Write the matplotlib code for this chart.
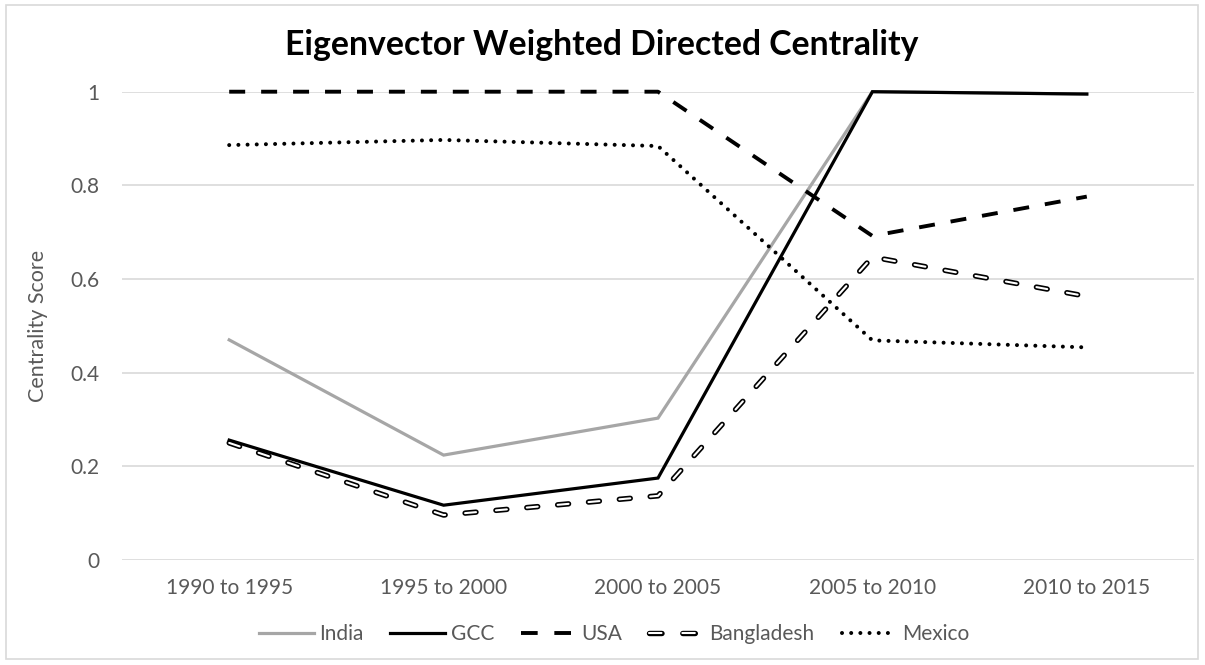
import matplotlib
matplotlib.use('Agg')
import matplotlib.pyplot as plt
from matplotlib.lines import Line2D
from matplotlib.legend_handler import HandlerTuple
from matplotlib.patches import Rectangle

plt.rcParams['font.family'] = ['Lato', 'DejaVu Sans']
plt.rcParams['lines.scale_dashes'] = False

# 数据
periods = ['1990 to 1995', '1995 to 2000', '2000 to 2005', '2005 to 2010', '2010 to 2015']
india = [0.47, 0.224, 0.303, 1.0, 0.995]
gcc = [0.256, 0.117, 0.175, 1.0, 0.995]
usa = [1.0, 1.0, 1.0, 0.692, 0.776]
bangladesh = [0.25, 0.096, 0.137, 0.647, 0.563]
mexico = [0.886, 0.897, 0.884, 0.469, 0.454]

TEXT = '#595959'
GRID = '#d9d9d9'

fig = plt.figure(figsize=(12.05, 6.65), dpi=100)
fig.patches.append(Rectangle((6 / 1205, 1 - 659 / 665), 1192 / 1205, 654 / 665,
                             transform=fig.transFigure, fill=False,
                             edgecolor='#d9d9d9', linewidth=1.2))
ax = fig.add_axes([122 / 1205, 105 / 665, 1072 / 1205, 468.3 / 665])

x = list(range(len(periods)))

ax.plot(x, india, color='#a6a6a6', lw=2.3, solid_joinstyle='miter', clip_on=False, zorder=3)
ax.plot(x, gcc, color='black', lw=2.3, solid_joinstyle='miter', clip_on=False, zorder=4)
ax.plot(x, usa, color='black', lw=2.8, dashes=(11.5, 11.5), dash_capstyle='butt',
        clip_on=False, zorder=5)
ax.plot(x, bangladesh, color='black', lw=3.9, dashes=(7.9, 14.4), dash_capstyle='round',
        clip_on=False, zorder=5)
ax.plot(x, bangladesh, color='white', lw=1.5, dashes=(7.9, 14.4), dash_capstyle='round',
        clip_on=False, zorder=6)
ax.plot(x, mexico, color='black', lw=2.9, dashes=(0.01, 6.6), dash_capstyle='round',
        clip_on=False, zorder=5)

ax.set_xlim(-0.5, len(periods) - 0.5)
ax.set_ylim(0, 1)
ax.set_yticks([0, 0.2, 0.4, 0.6, 0.8, 1])
ax.set_yticklabels(['0', '0.2', '0.4', '0.6', '0.8', '1'])
ax.set_xticks(x)
ax.set_xticklabels(periods)
ax.tick_params(length=0, labelsize=15, colors=TEXT)
ax.tick_params(axis='y', pad=16)
ax.tick_params(axis='x', pad=13)
ax.grid(axis='y', color=GRID, lw=1.2)
ax.set_axisbelow(True)
for s in ax.spines.values():
    s.set_visible(False)

ax.set_ylabel('Centrality Score', fontsize=15.5, color=TEXT)
ax.yaxis.set_label_coords(-0.069, 0.5)
fig.text(602 / 1205, 1 - 55 / 665, 'Eigenvector Weighted Directed Centrality',
         fontsize=24.3, fontweight='bold', ha='center', va='baseline', color='black')

# 图例
h_india = Line2D([], [], color='#a6a6a6', lw=2.3)
h_gcc = Line2D([], [], color='black', lw=2.3)
h_usa = Line2D([], [], color='black', lw=2.8, dashes=(12, 12), dash_capstyle='butt')
h_bd1 = Line2D([], [], color='black', lw=3.9, dashes=(9, 15), dash_capstyle='round')
h_bd2 = Line2D([], [], color='white', lw=1.5, dashes=(9, 15), dash_capstyle='round')
h_mx = Line2D([], [], color='black', lw=2.9, dashes=(0.01, 6.6), dash_capstyle='round')
leg = fig.legend([h_india, h_gcc, h_usa, (h_bd1, h_bd2), h_mx],
                 ['India', 'GCC', 'USA', 'Bangladesh', 'Mexico'],
                 handler_map={tuple: HandlerTuple(ndivide=1, pad=0)},
                 loc='center', bbox_to_anchor=(614 / 1205, 1 - 634 / 665), ncol=5,
                 frameon=False, fontsize=15, handlelength=2.64, handletextpad=0.25,
                 columnspacing=1.3)
for t in leg.get_texts():
    t.set_color(TEXT)

fig.savefig('out.png', dpi=100, facecolor='white')
